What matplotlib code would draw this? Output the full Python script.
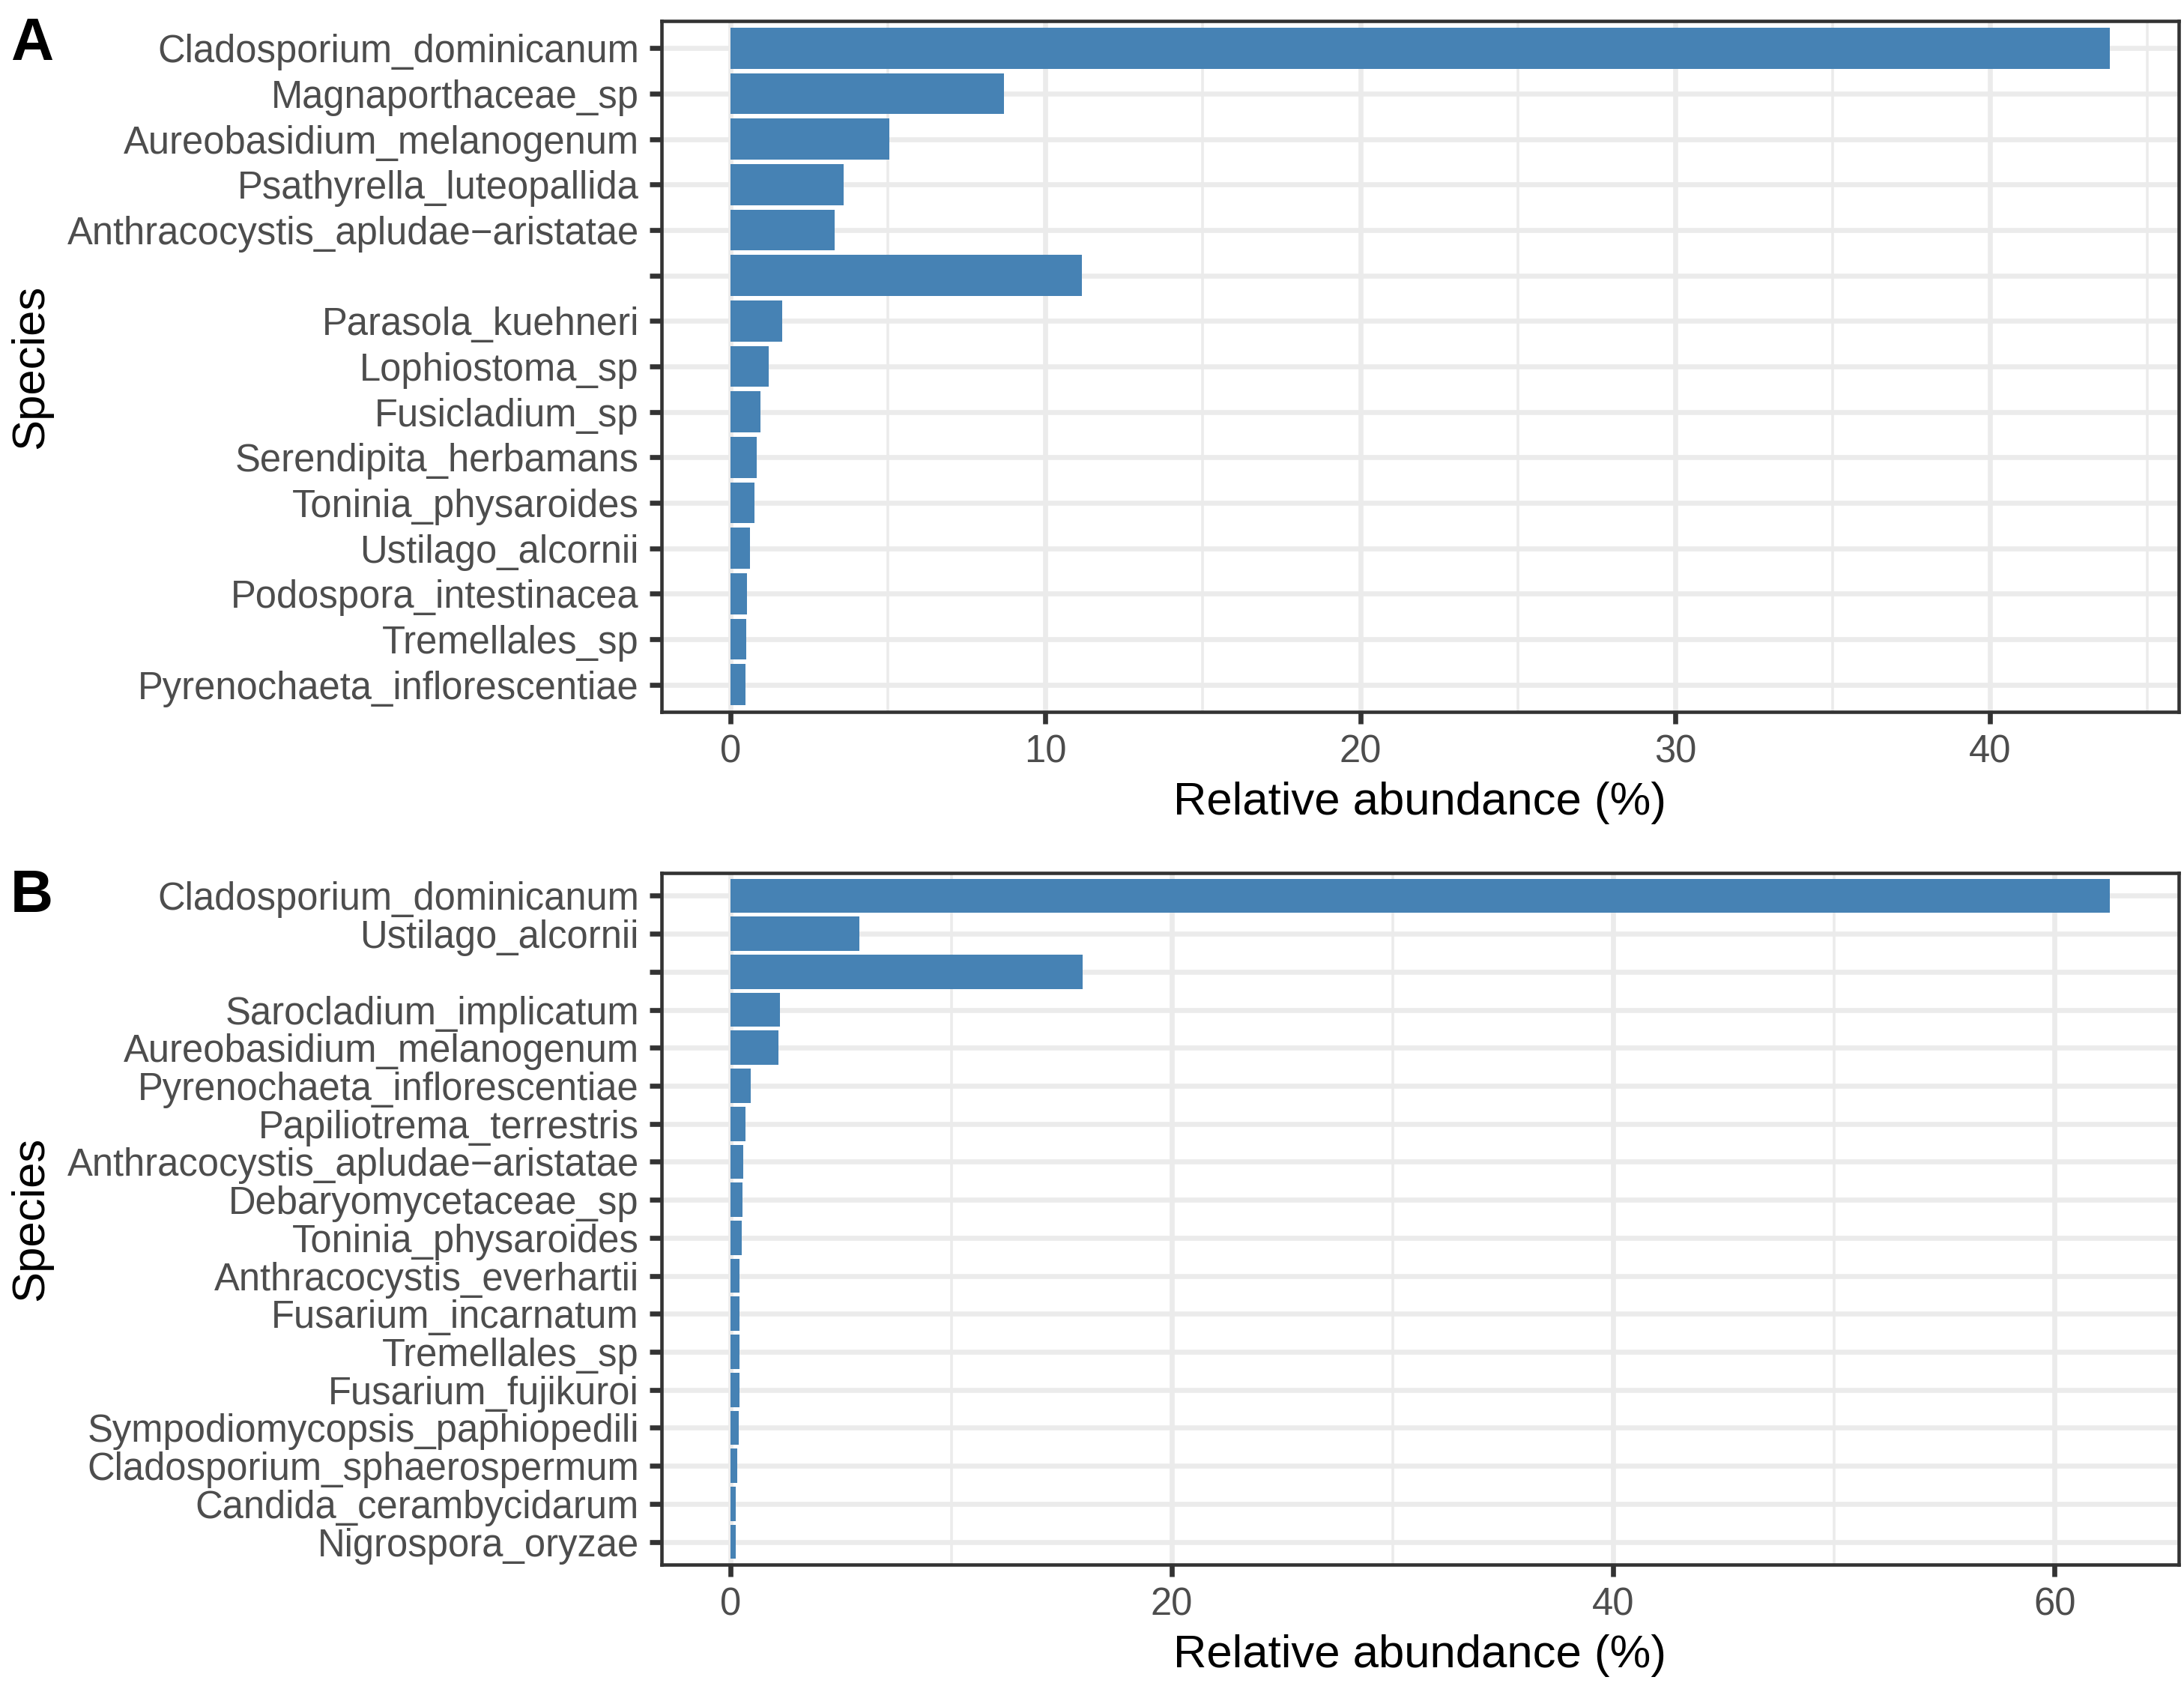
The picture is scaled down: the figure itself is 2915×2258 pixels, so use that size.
import matplotlib.pyplot as plt
import numpy as np

# panel A: top to bottom, the blank label is an unassigned group
species_a = ["Cladosporium_dominicanum", "Magnaporthaceae_sp", "Aureobasidium_melanogenum",
             "Psathyrella_luteopallida", "Anthracocystis_apludae\u2212aristatae", "",
             "Parasola_kuehneri", "Lophiostoma_sp", "Fusicladium_sp", "Serendipita_herbamans",
             "Toninia_physaroides", "Ustilago_alcornii", "Podospora_intestinacea",
             "Tremellales_sp", "Pyrenochaeta_inflorescentiae"]
abund_a = [43.8, 8.68, 5.05, 3.58, 3.31, 11.16, 1.64, 1.21, 0.95, 0.83,
           0.76, 0.62, 0.52, 0.50, 0.47]

# panel B
species_b = ["Cladosporium_dominicanum", "Ustilago_alcornii", "", "Sarocladium_implicatum",
             "Aureobasidium_melanogenum", "Pyrenochaeta_inflorescentiae", "Papiliotrema_terrestris",
             "Anthracocystis_apludae\u2212aristatae", "Debaryomycetaceae_sp", "Toninia_physaroides",
             "Anthracocystis_everhartii", "Fusarium_incarnatum", "Tremellales_sp",
             "Fusarium_fujikuroi", "Sympodiomycopsis_paphiopedili", "Cladosporium_sphaerospermum",
             "Candida_cerambycidarum", "Nigrospora_oryzae"]
abund_b = [62.5, 5.84, 15.96, 2.23, 2.17, 0.91, 0.67, 0.58, 0.53, 0.50,
           0.39, 0.39, 0.39, 0.39, 0.36, 0.30, 0.23, 0.23]

W, H, DPI = 2915, 2258, 300
plt.rcParams['font.family'] = ['Liberation Sans', 'DejaVu Sans']

fig = plt.figure(figsize=(W / DPI, H / DPI), dpi=DPI)


def panel(top, bottom, species, values, step, letter, letter_y):
    left, right = 883, 2908
    ax = fig.add_axes([left / W, 1 - bottom / H, (right - left) / W, (bottom - top) / H])
    n = len(species)
    pos = np.arange(n, 0, -1)
    ax.barh(pos, values, height=0.9, color="#4682B4", zorder=2)
    vmax = max(values)
    ax.set_xlim(-0.05 * vmax, 1.05 * vmax)
    ax.set_ylim(0.4, n + 0.6)
    ax.set_yticks(pos)
    ax.set_yticklabels(species)
    ax.set_xticks(np.arange(0, 1.05 * vmax, step))
    ax.set_xticks(np.arange(step / 2, 1.05 * vmax, step), minor=True)
    ax.set_axisbelow(True)
    ax.grid(which="major", color="#EBEBEB", lw=1.6)
    ax.grid(which="minor", axis="x", color="#EBEBEB", lw=0.85)
    ax.tick_params(which="major", length=3.8, width=1.6, color="#333333",
                   labelsize=12.2, labelcolor="#4D4D4D", pad=3.4)
    ax.tick_params(which="minor", length=0)
    for s in ax.spines.values():
        s.set_color("#333333")
        s.set_linewidth(1.1)
    ax.set_xlabel("Relative abundance (%)", fontsize=14.8, color="black", va="center")
    ax.xaxis.set_label_coords(0.5, -121 / (bottom - top))
    ax.set_ylabel("Species", fontsize=14.8, color="black", va="center")
    ax.yaxis.set_label_coords((42 - left) / (right - left), 0.5)
    fig.text(14 / W, 1 - letter_y / H, letter, fontsize=19, fontweight="bold",
             ha="left", va="baseline")
    return ax


panel(28, 950, species_a, abund_a, 10, "A", 80)
panel(1165, 2088, species_b, abund_b, 20, "B", 1217)

fig.savefig("out.png", dpi=DPI)
